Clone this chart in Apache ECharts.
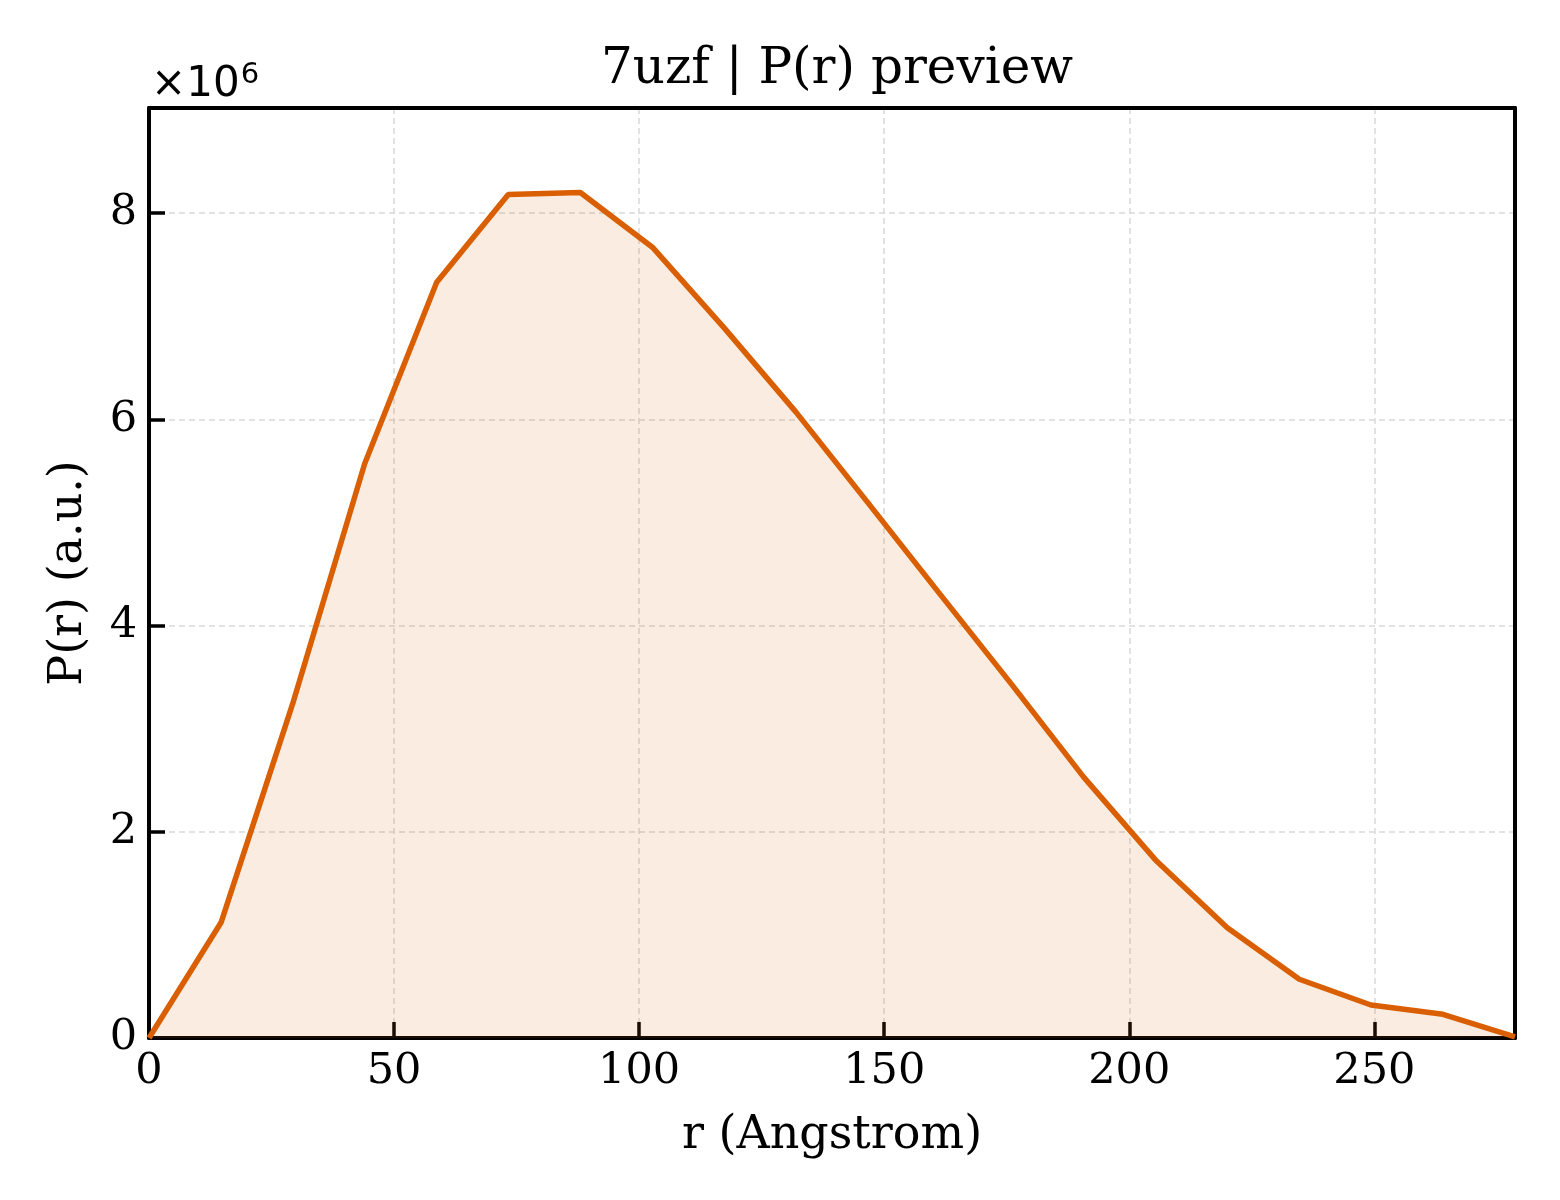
<!DOCTYPE html>
<html>
<head>
<meta charset="utf-8">
<title>7uzf | P(r) preview</title>
<script src="https://cdn.jsdelivr.net/npm/echarts@6/dist/echarts.min.js"></script>
<style>
	html, body { margin: 0; padding: 0; background: #fff; }
	#chart { width: 1560px; height: 1200px; }
</style>
</head>
<body>
<div id="chart"></div>
<script>
// r in Angstrom
var rValues = [0, 14.7, 29.3, 44.0, 58.7, 73.3, 88.0, 102.7, 117.3, 132.0,
	146.7, 161.3, 176.0, 190.7, 205.3, 220.0, 234.7, 249.3, 264.0, 278.7];
// P(r), in units of 1e6
var prValues = [0, 1.12, 3.24, 5.57, 7.33, 8.18, 8.20, 7.67, 6.89, 6.07,
	5.19, 4.31, 3.43, 2.53, 1.73, 1.07, 0.57, 0.32, 0.23, 0.01];
var xTicks = [0, 50, 100, 150, 200, 250];
var yTicks = [0, 2, 4, 6, 8];

var serif = 'DejaVu Serif';
var lineColor = '#d95f02';
var xMax = 278.7, yMax = 9.02;

var points = [];
for (var i = 0; i < rValues.length; i++) {
	points.push([rValues[i], prValues[i]]);
}

// plain frame axis (top / right side of the box)
function frameAxis(pos, max) {
	return {
		type: 'value', position: pos, min: 0, max: max,
		axisLine: { show: true, onZero: false, lineStyle: { color: '#000', width: 4 } },
		axisTick: { show: false },
		axisLabel: { show: false },
		splitLine: { show: false }
	};
}

var chart = echarts.init(document.getElementById('chart'));
chart.setOption({
	animation: false,
	backgroundColor: '#fff',
	title: [{
		text: '7uzf | P(r) preview',
		left: 832,
		top: 40,
		textAlign: 'center',
		textStyle: { fontFamily: serif, fontSize: 50, fontWeight: 'normal', color: '#000' }
	}, {
		text: '×10{s|6}',
		left: 146,
		top: 56,
		textStyle: {
			fontFamily: 'DejaVu Sans', fontSize: 42, fontWeight: 'normal', color: '#000',
			lineHeight: 48,
			rich: {
				s: { fontFamily: 'DejaVu Sans', fontSize: 29, color: '#000', verticalAlign: 'top', lineHeight: 48, padding: [0, 0, 0, 1] }
			}
		}
	}],
	grid: {
		left: 149,
		top: 108,
		right: 45,
		bottom: 162
	},
	xAxis: [{
		type: 'value',
		min: 0,
		max: xMax,
		interval: 50,
		name: 'r (Angstrom)',
		nameLocation: 'middle',
		nameGap: 75,
		nameTextStyle: { fontFamily: serif, fontSize: 46, color: '#000' },
		axisLine: { show: true, onZero: false, lineStyle: { color: '#000', width: 4 } },
		axisTick: {
			show: true, inside: true, length: 16,
			lineStyle: { color: '#000', width: 3.5 }
		},
		axisLabel: {
			customValues: xTicks, margin: 12,
			fontFamily: serif, fontSize: 43, color: '#000'
		},
		splitLine: {
			show: true,
			lineStyle: { color: '#d9d9d9', width: 1.5, type: [6, 4] }
		}
	}, frameAxis('top', xMax)],
	yAxis: [{
		type: 'value',
		min: 0,
		max: yMax,
		interval: 2,
		name: 'P(r) (a.u.)',
		nameLocation: 'middle',
		nameGap: 57,
		nameRotate: 90,
		nameTextStyle: { fontFamily: serif, fontSize: 46, color: '#000' },
		axisLine: { show: true, onZero: false, lineStyle: { color: '#000', width: 4 } },
		axisTick: {
			show: true, inside: true, length: 16,
			lineStyle: { color: '#000', width: 3.5 }
		},
		axisLabel: {
			customValues: yTicks, margin: 12,
			fontFamily: serif, fontSize: 43, color: '#000'
		},
		splitLine: {
			show: true,
			lineStyle: { color: '#d9d9d9', width: 1.5, type: [6, 4] }
		}
	}, frameAxis('right', yMax)],
	series: [{
		type: 'line',
		data: points,
		showSymbol: false,
		symbol: 'none',
		lineStyle: { color: lineColor, width: 5.5 },
		areaStyle: { color: lineColor, opacity: 0.12 },
		z: 3
	}]
});
</script>
</body>
</html>
